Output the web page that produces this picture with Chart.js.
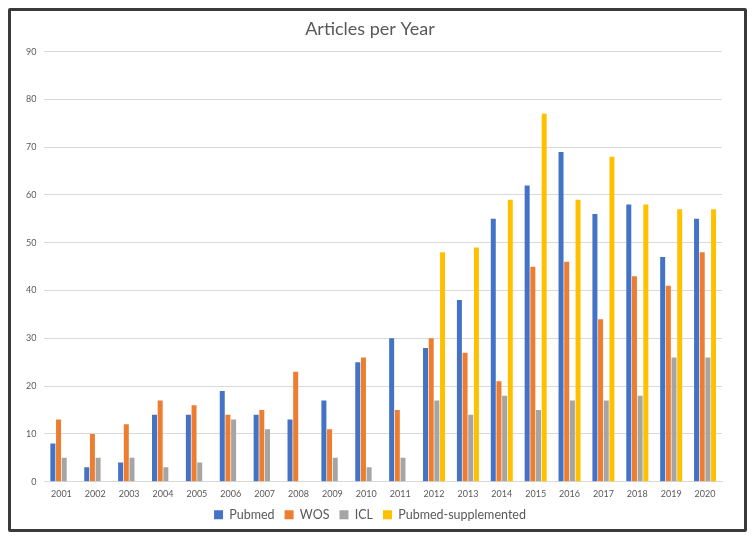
<!DOCTYPE html>
<html>
<head>
<meta charset="utf-8">
<script src="https://cdn.jsdelivr.net/npm/chart.js@4"></script>
<style>
  body { margin: 0; background: #fff; }
  #box {
    position: absolute; left: 8px; top: 8px;
    width: 733px; height: 518px;
    border: 3px solid #3a3a3a; border-radius: 2px;
  }
</style>
</head>
<body>
<div id="box"><canvas id="myChart"></canvas></div>
<script>
  const years = ['2001','2002','2003','2004','2005','2006','2007','2008','2009','2010',
                 '2011','2012','2013','2014','2015','2016','2017','2018','2019','2020'];
  const pubmed = [8, 3, 4, 14, 14, 19, 14, 13, 17, 25, 30, 28, 38, 55, 62, 69, 56, 58, 47, 55];
  const wos = [13, 10, 12, 17, 16, 14, 15, 23, 11, 26, 15, 30, 27, 21, 45, 46, 34, 43, 41, 48];
  const icl = [5, 5, 5, 3, 4, 13, 11, 0, 5, 3, 5, 17, 14, 18, 15, 17, 17, 18, 26, 26];
  const pubmedSupp = [null, null, null, null, null, null, null, null, null, null,
                      null, 48, 49, 59, 77, 59, 68, 58, 57, 57];
  const yTicks = [0, 10, 20, 30, 40, 50, 60, 70, 80, 90];

  const font = "Lato, 'Open Sans', sans-serif";
  const bar = { categoryPercentage: 0.67, barPercentage: 0.88 };

  const data = {
    labels: years,
    datasets: [
      { label: 'Pubmed', data: pubmed, backgroundColor: '#4472C4', ...bar },
      { label: 'WOS', data: wos, backgroundColor: '#ED7D31', ...bar },
      { label: 'ICL', data: icl, backgroundColor: '#A5A5A5', ...bar },
      { label: 'Pubmed-supplemented', data: pubmedSupp, backgroundColor: '#FFC000', ...bar }
    ]
  };

  const config = {
    type: 'bar',
    data,
    options: {
      responsive: true,
      maintainAspectRatio: false,
      animation: false,
      layout: { padding: { left: 7, right: 22, top: 0, bottom: -2 } },
      plugins: {
        title: {
          display: true,
          text: 'Articles per Year',
          color: '#595959',
          font: { family: font, size: 18, weight: 'normal' },
          padding: { top: 7, bottom: 12 }
        },
        legend: {
          position: 'bottom',
          labels: {
            color: '#595959',
            font: { family: font, size: 12.5 },
            boxWidth: 9, boxHeight: 9, padding: 10
          }
        },
        tooltip: { enabled: false }
      },
      scales: {
        x: {
          grid: { display: false },
          border: { display: true, color: '#d9d9d9' },
          ticks: { color: '#595959', font: { family: font, size: 9 }, padding: -1 }
        },
        y: {
          min: 0, max: 90,
          afterBuildTicks: (axis) => { axis.ticks = yTicks.map(v => ({ value: v })); },
          grid: { color: '#d9d9d9', drawTicks: false },
          border: { display: false },
          ticks: { color: '#595959', font: { family: font, size: 9 }, padding: 8 }
        }
      }
    }
  };

  new Chart(document.getElementById('myChart'), config);
</script>
</body>
</html>
